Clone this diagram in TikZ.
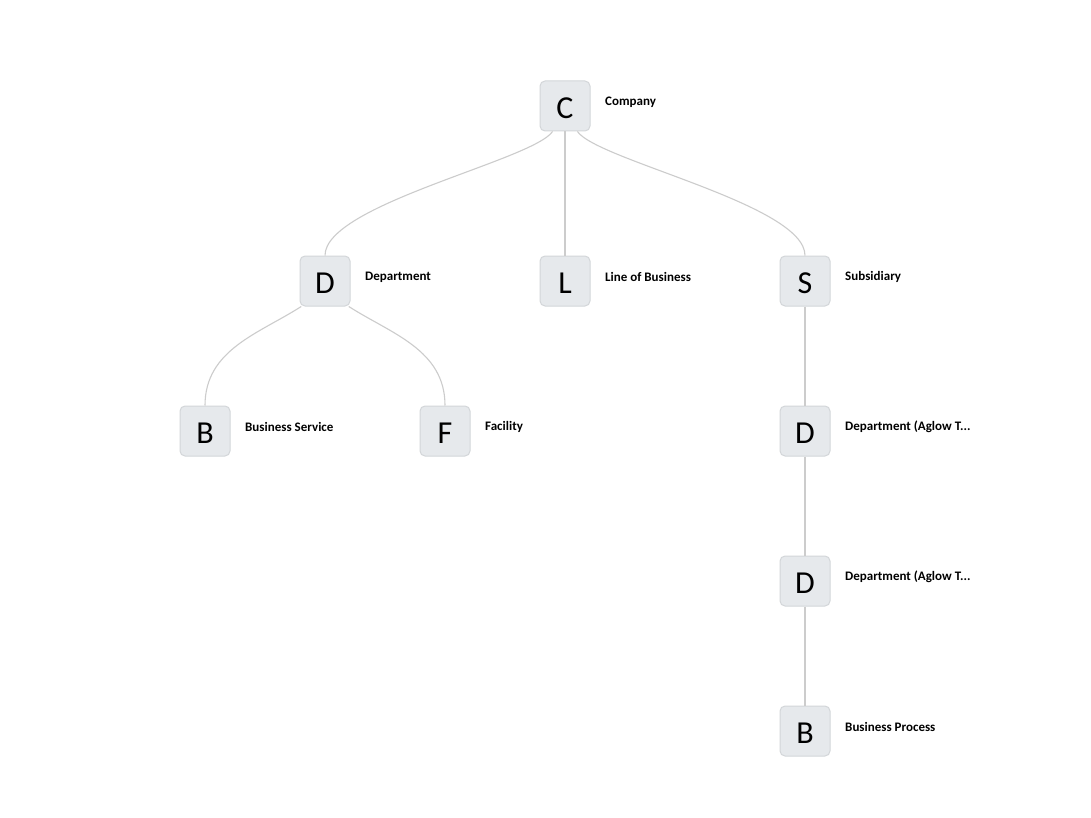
\documentclass[tikz,border=0pt]{standalone}
\usepackage{fontspec}
\setmainfont{Carlito}
\usetikzlibrary{calc}
\definecolor{boxfill}{HTML}{E6E9EC}
\definecolor{boxdraw}{HTML}{D3D6D9}
\definecolor{edgecol}{HTML}{CCCCCC}
\tikzset{
  ent/.style={draw=boxdraw, fill=boxfill, line width=1pt, rounded corners=5pt,
    minimum width=50pt, minimum height=50pt, inner sep=0pt,
    font=\fontsize{32}{32}\selectfont},
  entxt/.style={inner sep=0pt, font=\fontsize{32}{32}\selectfont},
  lbl/.style={anchor=west, inner sep=0pt, font=\fontsize{13}{14}\selectfont\bfseries},
  edge/.style={draw=edgecol, line width=1.1pt}
}
\begin{document}
\begin{tikzpicture}[x=1pt,y=-1pt]
\useasboundingbox[fill=white] (0,0) rectangle (1091,818);
\node[ent] (C) at (565,106) {};
\node[ent] (D) at (325,281) {};
\node[ent] (L) at (565,281) {};
\node[ent] (S) at (805,281) {};
\node[ent] (B) at (205,431) {};
\node[ent] (F) at (445,431) {};
\node[ent] (D2) at (805,431) {};
\node[ent] (D3) at (805,581) {};
\node[ent] (B2) at (805,731) {};

\node[entxt] (tC) at (565,108) {C};
\node[entxt] (tD) at (325,283) {D};
\node[entxt] (tL) at (565,283) {L};
\node[entxt] (tS) at (805,283) {S};
\node[entxt] (tB) at (205,433) {B};
\node[entxt] (tF) at (445,433) {F};
\node[entxt] (tD2) at (805,433) {D};
\node[entxt] (tD3) at (805,583) {D};
\node[entxt] (tB2) at (805,733) {B};

\node[lbl] (lC) at (605,102) {Company};
\node[lbl] (lD) at (365,277) {Department};
\node[lbl] (lL) at (605,277) {Line of Business};
\node[lbl] (lS) at (845,277) {Subsidiary};
\node[lbl] (lB) at (245,427) {Business Service};
\node[lbl] (lF) at (485,427) {Facility};
\node[lbl] (lD2) at (845,427) {Department (Aglow T...};
\node[lbl] (lD3) at (845,577) {Department (Aglow T...};
\node[lbl] (lB2) at (845,727) {Business Process};

\path[edge] (C.-116) .. controls ($(C.-116)+(-20,29)$) and ($(D.north)+(0,-51)$) .. (D.north);
\path[edge] (C.-64) .. controls ($(C.-64)+(20,29)$) and ($(S.north)+(0,-51)$) .. (S.north);
\path[edge] (C.south) -- (L.north);
\path[edge] (D.-133) .. controls ($(D.-133)+(-42,27)$) and ($(B.north)+(0,-56)$) .. (B.north);
\path[edge] (D.-47) .. controls ($(D.-47)+(42,27)$) and ($(F.north)+(0,-56)$) .. (F.north);
\path[edge] (S.south) -- (D2.north);
\path[edge] (D2.south) -- (D3.north);
\path[edge] (D3.south) -- (B2.north);
\end{tikzpicture}
\end{document}
